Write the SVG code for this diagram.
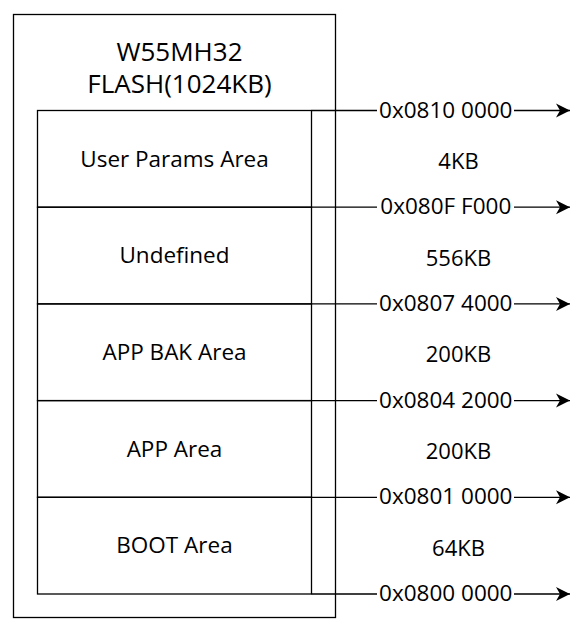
<svg xmlns="http://www.w3.org/2000/svg" width="585" height="633" viewBox="0 0 585 633">
<defs>
<style>
text{font-family:"Open Sans","Noto Sans","DejaVu Sans",sans-serif;fill:#000;text-anchor:middle}
.box{fill:none;stroke:#000;stroke-width:1.3}
.title{font-size:26px}
.area{font-size:22.5px}
.addr{font-size:22.5px}
.size{font-size:22px}
.edge{fill:none;stroke:#000;stroke-width:1.3}
</style>
<marker id="arr" markerWidth="16" markerHeight="16" viewBox="0 0 16 16" refX="14" refY="8" markerUnits="userSpaceOnUse" orient="auto">
<path d="M14,8 L0,1 L4,8 L0,15 Z" fill="#000"/>
</marker>
</defs>
<rect width="585" height="633" fill="#fff"/>
<g id="flash">
<rect class="box" x="13.5" y="14.5" width="322" height="603"/>
<text class="title" x="179.5" y="60.7">W55MH32</text>
<text class="title" x="179.5" y="93.3">FLASH(1024KB)</text>
</g>
<g id="user-params">
<rect class="box" x="37.5" y="110.5" width="274" height="96.7"/>
<text class="area" x="174.5" y="166.5">User Params Area</text>
</g>
<g id="undefined">
<rect class="box" x="37.5" y="207.2" width="274" height="96.7"/>
<text class="area" x="174.5" y="263.2">Undefined</text>
</g>
<g id="app-bak">
<rect class="box" x="37.5" y="303.9" width="274" height="96.7"/>
<text class="area" x="174.5" y="359.9">APP BAK Area</text>
</g>
<g id="app">
<rect class="box" x="37.5" y="400.6" width="274" height="96.7"/>
<text class="area" x="174.5" y="456.6">APP Area</text>
</g>
<g id="boot">
<rect class="box" x="37.5" y="497.3" width="274" height="96.7"/>
<text class="area" x="174.5" y="553.3">BOOT Area</text>
</g>
<g id="connectors">
<path class="edge" d="M311.5,110.5 H377 M514,110.5 H570" marker-end="url(#arr)"/>
<path class="edge" d="M311.5,207.2 H377 M514,207.2 H570" marker-end="url(#arr)"/>
<path class="edge" d="M311.5,303.9 H377 M514,303.9 H570" marker-end="url(#arr)"/>
<path class="edge" d="M311.5,400.6 H377 M514,400.6 H570" marker-end="url(#arr)"/>
<path class="edge" d="M311.5,497.3 H377 M514,497.3 H570" marker-end="url(#arr)"/>
<path class="edge" d="M311.5,594 H377 M514,594 H570" marker-end="url(#arr)"/>
<text class="addr" x="445.8" y="117.5">0x0810 0000</text>
<text class="addr" x="445.8" y="214.2">0x080F F000</text>
<text class="addr" x="445.8" y="310.9">0x0807 4000</text>
<text class="addr" x="445.8" y="407.6">0x0804 2000</text>
<text class="addr" x="445.8" y="504.3">0x0801 0000</text>
<text class="addr" x="445.8" y="601">0x0800 0000</text>
</g>
<g id="sizes">
<text class="size" x="458.5" y="168.9">4KB</text>
<text class="size" x="458.5" y="265.6">556KB</text>
<text class="size" x="458.5" y="362.3">200KB</text>
<text class="size" x="458.5" y="459">200KB</text>
<text class="size" x="458.5" y="555.7">64KB</text>
</g>
</svg>
